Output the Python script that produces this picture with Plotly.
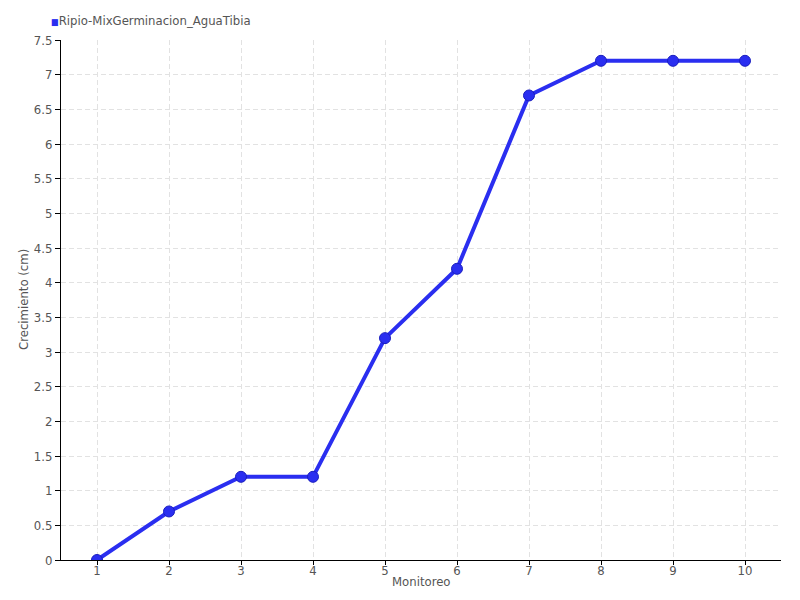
import plotly.graph_objects as go

monitoreo = [1, 2, 3, 4, 5, 6, 7, 8, 9, 10]
crecimiento = [0, 0.7, 1.2, 1.2, 3.2, 4.2, 6.7, 7.2, 7.2, 7.2]
serie = "Ripio-MixGerminacion_AguaTibia"
y_ticks = [0, 0.5, 1, 1.5, 2, 2.5, 3, 3.5, 4, 4.5, 5, 5.5, 6, 6.5, 7, 7.5]

FONT = "DejaVu Sans Condensed"
TXT = "#555555"
BLUE = "#2a2ef0"
GRID = "#e2e2e2"

fig = go.Figure()
fig.add_trace(go.Scatter(
    x=monitoreo, y=crecimiento, name=serie, mode="lines+markers",
    line=dict(color=BLUE, width=4),
    marker=dict(color=BLUE, size=11, line=dict(color="#1a1ec0", width=1)),
    showlegend=False,
))

# legend-like label (small square + series name)
fig.add_annotation(
    xref="paper", yref="paper", x=0, y=1, xanchor="left", yanchor="middle",
    xshift=-12, yshift=20, showarrow=False,
    text=f"<span style='color:{BLUE};font-size:9px'>■</span>{serie}",
    font=dict(family=FONT, size=13, color=TXT),
)
# x-axis title placed close to the tick labels
fig.add_annotation(
    xref="paper", yref="paper", x=0.5, y=0, xanchor="center", yanchor="middle",
    yshift=-21, showarrow=False, text="Monitoreo",
    font=dict(family=FONT, size=13, color=TXT),
)
# y-axis title
fig.add_annotation(
    xref="paper", yref="paper", x=0, y=0.5, xanchor="center", yanchor="middle",
    xshift=-38, showarrow=False, text="Crecimiento (cm)", textangle=-90,
    font=dict(family=FONT, size=13, color=TXT),
)

fig.update_layout(
    width=792, height=592,
    margin=dict(l=53, r=19, t=32, b=40, autoexpand=False),
    paper_bgcolor="white", plot_bgcolor="white",
    font=dict(family=FONT, size=13, color=TXT),
    showlegend=False,
    xaxis=dict(
        range=[0.5, 10.5], tickvals=monitoreo, ticktext=[str(v) for v in monitoreo],
        showgrid=True, gridcolor=GRID, griddash="5px,3px", gridwidth=1,
        showline=True, linecolor="black", linewidth=1,
        ticks="outside", ticklen=4, tickcolor="black",
        ticklabelstandoff=-6,
        zeroline=False,
    ),
    yaxis=dict(
        range=[0, 7.5], tickvals=y_ticks, ticktext=[f"{v:g}" for v in y_ticks],
        showgrid=True, gridcolor=GRID, griddash="5px,3px", gridwidth=1,
        showline=True, linecolor="black", linewidth=1,
        ticks="outside", ticklen=5, tickcolor="black",
        zeroline=False,
    ),
)

fig.write_html("out.html")
